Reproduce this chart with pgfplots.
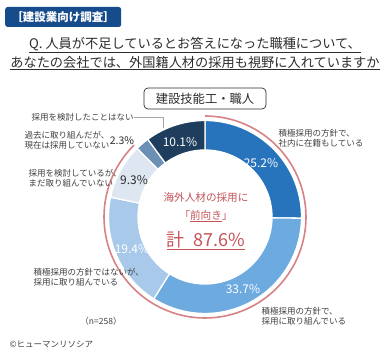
\documentclass[border=0pt]{standalone}
\usepackage{fontspec}
\setmainfont{Noto Sans CJK JP}
\usepackage{pgfplots}
\pgfplotsset{compat=1.18}
\definecolor{cA}{RGB}{40,116,188}
\definecolor{cB}{RGB}{108,170,224}
\definecolor{cC}{RGB}{168,201,234}
\definecolor{cD}{RGB}{221,230,241}
\definecolor{cE}{RGB}{107,143,181}
\definecolor{cF}{RGB}{31,62,94}
\definecolor{ring}{RGB}{214,130,134}
\definecolor{redt}{RGB}{196,84,88}
\definecolor{navy}{RGB}{23,76,140}
\definecolor{txt}{RGB}{64,64,64}
\definecolor{qtxt}{RGB}{45,45,45}
% slice: start (%), value (%), colour
\newcommand{\slice}[3]{%
  \addplot[fill=#3, draw=white, line width=1.3pt, domain={90-3.6*(#1+#2)}:{90-3.6*(#1)}, samples=60, variable=\t]
    ({205+96.5*cos(\t)},{135+96.5*sin(\t)}) -- (axis cs:205,135) -- cycle;}
\begin{document}
\begin{tikzpicture}
\begin{axis}[hide axis, scale only axis, width=390pt, height=352pt,
  xmin=0, xmax=390, ymin=0, ymax=352, clip=false]
\fill[white] (rel axis cs:0,0) rectangle (rel axis cs:1,1);
% donut slices (clockwise from top)
\slice{0}{25.2}{cA}
\slice{25.2}{33.7}{cB}
\slice{58.9}{19.4}{cC}
\slice{78.3}{9.3}{cD}
\slice{87.6}{2.3}{cE}
\slice{89.9}{10.1}{cF}
\addplot[fill=white, draw=white, line width=1.3pt, domain=0:360, samples=120, variable=\t]
  ({205+67*cos(\t)},{135+67*sin(\t)}) -- cycle;
% ring around the "positive" share 87.6%
\addplot[draw=ring, line width=1.6pt, domain={90-3.6*87.6}:90, samples=120, variable=\t]
  ({205+101*cos(\t)},{135+101*sin(\t)});
% title box
\node[fill=navy, text=white, rounded corners=2.5pt, anchor=west, minimum height=20pt, minimum width=116pt,
  inner xsep=3pt, font=\fontsize{11.5}{13}\selectfont\bfseries] at (axis cs:5,335) {［建設業向け調査］};
% question
\node[text=qtxt, font=\fontsize{13.2}{15}\selectfont] at (axis cs:195,307) {\underline{Q. 人員が不足しているとお答えになった職種について、}};
\node[text=qtxt, font=\fontsize{13.2}{15}\selectfont] at (axis cs:195,289) {\underline{あなたの会社では、外国籍人材の採用も視野に入れていますか}};
% subtitle box
\node[draw=qtxt, line width=0.7pt, rounded corners=4pt, minimum width=122pt, minimum height=21pt,
  text=qtxt, font=\fontsize{12.3}{14}\selectfont] at (axis cs:205,253.5) {建設技能工・職人};
% centre texts
\node[text=redt, font=\fontsize{10.6}{12}\selectfont] at (axis cs:206,155) {海外人材の採用に};
\node[text=redt, font=\fontsize{10.6}{12}\selectfont] at (axis cs:206,136) {「\underline{前向き}」};
\node[text=redt, font=\fontsize{18}{20}\selectfont] at (axis cs:206,111) {\underline{計\hspace{0.5em}87.6\%}};
% percentages
\node[text=white, font=\fontsize{12}{14}\selectfont] at (axis cs:261,189) {25.2\%};
\node[text=white, font=\fontsize{12}{14}\selectfont] at (axis cs:243,63) {33.7\%};
\node[text=white, font=\fontsize{12}{14}\selectfont] at (axis cs:132,103) {19.4\%};
\node[text=qtxt, font=\fontsize{12}{14}\selectfont] at (axis cs:134,172) {9.3\%};
\node[text=qtxt, font=\fontsize{10.5}{12}\selectfont] at (axis cs:122,211) {2.3\%};
\node[text=white, font=\fontsize{12}{14}\selectfont] at (axis cs:180,210) {10.1\%};
% category labels
\node[text=txt, anchor=west, font=\fontsize{8.5}{10}\selectfont] at (axis cs:28,235) {採用を検討したことはない};
\draw[gray!70, line width=0.6pt] (axis cs:134,235) -- (axis cs:163,235) -- (axis cs:163,224);
\node[text=txt, anchor=west, align=left, font=\fontsize{8.5}{10}\selectfont] at (axis cs:21,212) {過去に取り組んだが、\\現在は採用していない};
\node[text=txt, anchor=west, align=left, font=\fontsize{8.5}{10}\selectfont] at (axis cs:25,174) {採用を検討しているが、\\まだ取り組んでいない};
\node[text=txt, anchor=west, align=left, font=\fontsize{8.5}{10}\selectfont] at (axis cs:275,214) {積極採用の方針で、\\社内に在籍もしている};
\node[text=txt, anchor=west, align=left, font=\fontsize{8.5}{10}\selectfont] at (axis cs:30,75) {積極採用の方針ではないが、\\採用に取り組んでいる};
\node[text=txt, anchor=west, align=left, font=\fontsize{8.5}{10}\selectfont] at (axis cs:258,36) {積極採用の方針で、\\採用に取り組んでいる};
\node[text=txt, font=\fontsize{8.5}{10}\selectfont] at (axis cs:101,31) {（n=258）};
\node[text=txt, anchor=west, font=\fontsize{8.5}{10}\selectfont] at (axis cs:6,8) {©ヒューマンリソシア};
\end{axis}
\end{tikzpicture}
\end{document}
